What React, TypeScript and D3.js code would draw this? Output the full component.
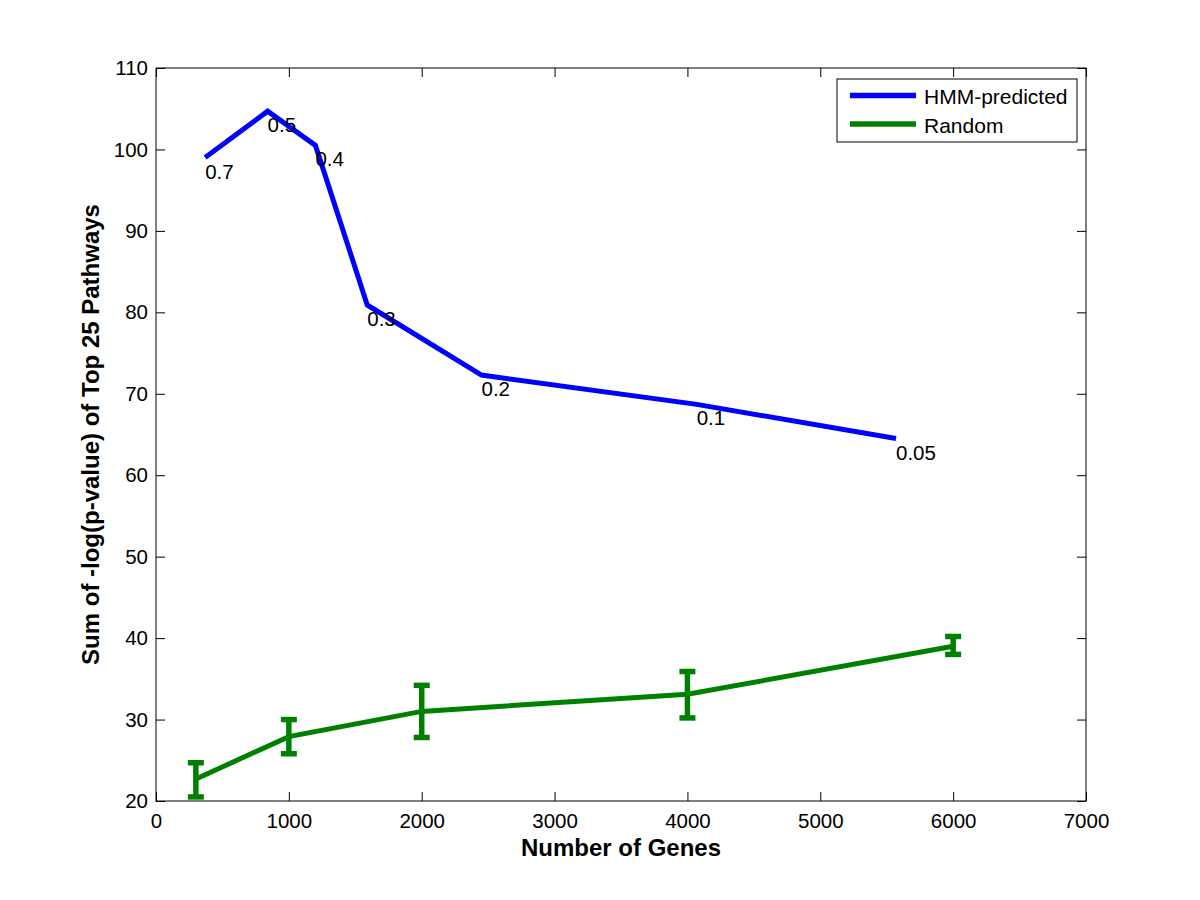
import { useEffect, useRef } from 'react';
import * as d3 from 'd3';

// HMM-predicted series: genes vs score, labelled by threshold
const hmmGenes = [370, 840, 1200, 1590, 2450, 4070, 5570];
const hmmScore = [99.0, 104.7, 100.5, 80.9, 72.3, 68.7, 64.5];
const hmmLabels = ['0.7', '0.5', '0.4', '0.3', '0.2', '0.1', '0.05'];

// Random series with error bars
const randGenes = [300, 1000, 2000, 4000, 6000];
const randScore = [22.7, 27.9, 31.0, 33.1, 39.0];
const randLow = [20.5, 25.8, 27.8, 30.2, 38.0];
const randHigh = [24.7, 30.0, 34.2, 35.9, 40.2];

const xTicks = [0, 1000, 2000, 3000, 4000, 5000, 6000, 7000];
const yTicks = [20, 30, 40, 50, 60, 70, 80, 90, 100, 110];

const seriesNames = ['HMM-predicted', 'Random'];
const seriesColors = ['#0000ff', '#008000'];

const W = 1200;
const H = 900;
const margin = { top: 68, right: 114, bottom: 99, left: 156 };

export default function App() {
  const svgRef = useRef<SVGSVGElement>(null);

  useEffect(() => {
    if (!svgRef.current) return;
    const svg = d3.select(svgRef.current);
    svg.selectAll('*').remove();

    const innerW = W - margin.left - margin.right;
    const innerH = H - margin.top - margin.bottom;
    const font = 'Liberation Sans, Arial, Helvetica, sans-serif';

    const x = d3.scaleLinear().domain([0, 7000]).range([0, innerW]);
    const y = d3.scaleLinear().domain([20, 110]).range([innerH, 0]);

    svg.append('rect').attr('width', W).attr('height', H).attr('fill', '#fff');

    const g = svg.append('g').attr('transform', `translate(${margin.left},${margin.top})`);

    const styleAxis = (sel: d3.Selection<SVGGElement, unknown, null, undefined>, labels: boolean) => {
      sel.select('.domain').remove();
      sel.selectAll('line').attr('stroke', '#000').attr('stroke-width', 1);
      sel.selectAll('text')
        .attr('font-family', font)
        .attr('font-size', 20.5)
        .attr('fill', '#000')
        .style('display', labels ? null : 'none');
    };

    // bottom + top axes (ticks inward)
    g.append('g')
      .attr('transform', `translate(0,${innerH})`)
      .call(d3.axisBottom(x).tickValues(xTicks).tickSize(-9).tickPadding(12).tickFormat(d3.format('d')))
      .call(s => styleAxis(s, true));
    g.append('g')
      .call(d3.axisTop(x).tickValues(xTicks).tickSize(-9).tickFormat(() => ''))
      .call(s => styleAxis(s, false));
    // left + right axes
    g.append('g')
      .call(d3.axisLeft(y).tickValues(yTicks).tickSize(-9).tickPadding(8).tickFormat(d3.format('d')))
      .call(s => styleAxis(s, true));
    g.append('g')
      .attr('transform', `translate(${innerW},0)`)
      .call(d3.axisRight(y).tickValues(yTicks).tickSize(-9).tickFormat(() => ''))
      .call(s => styleAxis(s, false));

    g.append('rect')
      .attr('width', innerW)
      .attr('height', innerH)
      .attr('fill', 'none')
      .attr('stroke', '#000')
      .attr('stroke-width', 1);

    // Random line + error bars
    const randPts = randGenes.map((d, i) => [d, randScore[i]] as [number, number]);
    const line = d3.line<[number, number]>().x(d => x(d[0])).y(d => y(d[1]));

    g.append('path')
      .datum(randPts)
      .attr('fill', 'none')
      .attr('stroke', seriesColors[1])
      .attr('stroke-width', 5)
      .attr('d', line);

    const capW = 8;
    const eb = g.append('g').attr('stroke', seriesColors[1]).attr('stroke-width', 5.5);
    randGenes.forEach((gx, i) => {
      const cx = x(gx);
      eb.append('line').attr('x1', cx).attr('x2', cx).attr('y1', y(randLow[i])).attr('y2', y(randHigh[i]));
      eb.append('line').attr('x1', cx - capW).attr('x2', cx + capW).attr('y1', y(randLow[i])).attr('y2', y(randLow[i]));
      eb.append('line').attr('x1', cx - capW).attr('x2', cx + capW).attr('y1', y(randHigh[i])).attr('y2', y(randHigh[i]));
    });

    // HMM line
    const hmmPts = hmmGenes.map((d, i) => [d, hmmScore[i]] as [number, number]);
    g.append('path')
      .datum(hmmPts)
      .attr('fill', 'none')
      .attr('stroke', seriesColors[0])
      .attr('stroke-width', 5)
      .attr('d', line);

    g.selectAll('.ptlabel')
      .data(hmmPts)
      .enter()
      .append('text')
      .attr('x', d => x(d[0]))
      .attr('y', d => y(d[1]) + 21)
      .attr('font-family', font)
      .attr('font-size', 20.5)
      .attr('fill', '#000')
      .text((_, i) => hmmLabels[i]);

    // legend
    const lg = g.append('g').attr('transform', `translate(${innerW - 249},11)`);
    lg.append('rect')
      .attr('width', 240)
      .attr('height', 63)
      .attr('fill', '#fff')
      .attr('stroke', '#000')
      .attr('stroke-width', 1);
    seriesNames.forEach((name, i) => {
      const ly = 16.5 + i * 28.5;
      lg.append('line')
        .attr('x1', 13).attr('x2', 79)
        .attr('y1', ly).attr('y2', ly)
        .attr('stroke', seriesColors[i])
        .attr('stroke-width', 5.5);
      lg.append('text')
        .attr('x', 87)
        .attr('y', ly + 8.5)
        .attr('font-family', font)
        .attr('font-size', 21)
        .attr('fill', '#000')
        .text(name);
    });

    // axis titles
    svg.append('text')
      .attr('x', margin.left + innerW / 2)
      .attr('y', 856)
      .attr('text-anchor', 'middle')
      .attr('font-family', font)
      .attr('font-size', 24)
      .attr('font-weight', 'bold')
      .text('Number of Genes');

    svg.append('text')
      .attr('transform', `translate(99,${margin.top + innerH / 2}) rotate(-90)`)
      .attr('text-anchor', 'middle')
      .attr('font-family', font)
      .attr('font-size', 24)
      .attr('font-weight', 'bold')
      .text('Sum of -log(p-value) of Top 25 Pathways');
  }, []);

  return <svg ref={svgRef} width={W} height={H} style={{ display: 'block', margin: -8 }} />;
}
